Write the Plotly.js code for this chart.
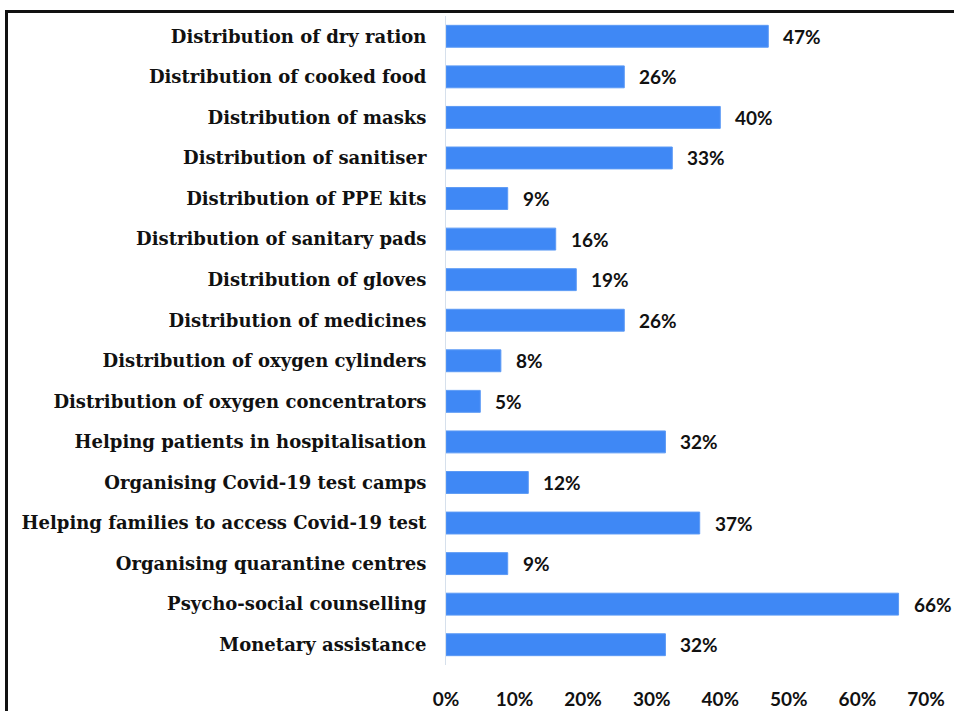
<!DOCTYPE html>
<html>
<head>
<meta charset="utf-8">
<script src="https://cdn.plot.ly/plotly-3.0.1.min.js"></script>
<style>
  html, body { margin: 0; padding: 0; background: #fff; }
  #wrap { position: relative; width: 954px; height: 711px; overflow: hidden; }
  #frame { position: absolute; left: 5px; top: 10px; width: 960px; height: 720px;
           border-left: 3px solid #111; border-top: 3px solid #111; }
  #plot { position: absolute; left: 0; top: 0; width: 954px; height: 711px; }
</style>
</head>
<body>
<div id="wrap">
  <div id="frame"></div>
  <div id="plot"></div>
</div>
<script>
var activities = [
  'Distribution of dry ration',
  'Distribution of cooked food',
  'Distribution of masks',
  'Distribution of sanitiser',
  'Distribution of PPE kits',
  'Distribution of sanitary pads',
  'Distribution of gloves',
  'Distribution of medicines',
  'Distribution of oxygen cylinders',
  'Distribution of oxygen concentrators',
  'Helping patients in hospitalisation',
  'Organising Covid-19 test camps',
  'Helping families to access Covid-19 test',
  'Organising quarantine centres',
  'Psycho-social counselling',
  'Monetary assistance'
];
var shares = [47, 26, 40, 33, 9, 16, 19, 26, 8, 5, 32, 12, 37, 9, 66, 32];
var tickVals = [0, 10, 20, 30, 40, 50, 60, 70];
var tickText = ['0%', '10%', '20%', '30%', '40%', '50%', '60%', '70%'];

function makePlot() {
  var trace = {
    type: 'bar',
    orientation: 'h',
    x: shares,
    y: activities,
    marker: { color: '#3f88f5', line: { color: '#5c9af5', width: 1 } },
    hoverinfo: 'none'
  };

  // value labels sit a little right of each bar end
  var notes = shares.map(function (v, i) {
    return {
      x: v, y: activities[i], xref: 'x', yref: 'y',
      text: v + '%', showarrow: false,
      xanchor: 'left', xshift: 13,
      font: { family: 'Lato, "Open Sans", sans-serif', size: 19, weight: 'bold', color: '#111' }
    };
  });

  var layout = {
    width: 954,
    height: 711,
    paper_bgcolor: 'rgba(0,0,0,0)',
    plot_bgcolor: 'rgba(0,0,0,0)',
    showlegend: false,
    bargap: 0.46,
    margin: { l: 446, r: 28, t: 16, b: 46, pad: 0 },
    xaxis: {
      range: [0, 70],
      tickvals: tickVals,
      ticktext: tickText,
      showgrid: false,
      zeroline: false,
      showline: false,
      ticks: '',
      ticklabelstandoff: 21,
      tickfont: { family: 'Lato, "Open Sans", sans-serif', size: 19, weight: 'bold', color: '#111' },
      fixedrange: true
    },
    yaxis: {
      autorange: 'reversed',
      type: 'category',
      showgrid: false,
      zeroline: false,
      showline: true,
      linecolor: '#d6e0ec',
      linewidth: 1,
      ticks: '',
      ticklabelstandoff: 15,
      tickfont: { family: '"DejaVu Serif", serif', size: 18, weight: 'bold', color: '#111' },
      fixedrange: true
    },
    annotations: notes
  };

  Plotly.newPlot('plot', [trace], layout, { displayModeBar: false, staticPlot: true });
}

makePlot();
</script>
</body>
</html>
